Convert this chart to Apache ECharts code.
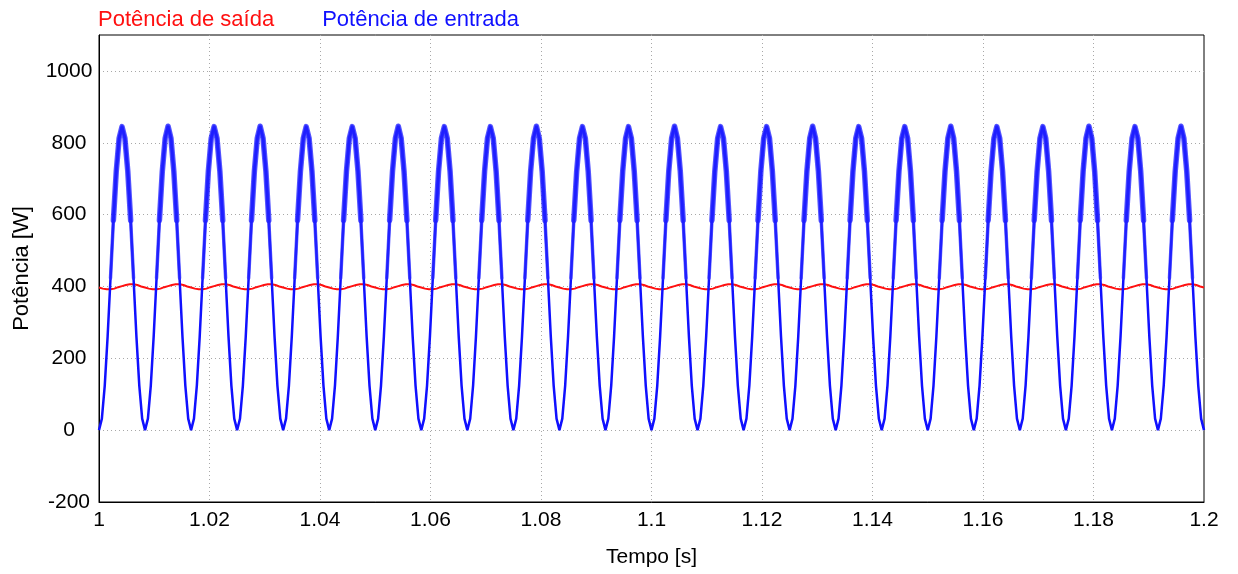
<!DOCTYPE html>
<html>
<head>
<meta charset="utf-8">
<script src="https://cdn.jsdelivr.net/npm/echarts@6/dist/echarts.min.js"></script>
<style>
  html, body { margin: 0; padding: 0; background: #fff; }
  #chart { width: 1238px; height: 574px; }
</style>
</head>
<body>
<div id="chart"></div>
<script>
// sampling of the traces (s)
const T0 = 1;
const DT_IN = 1 / 1920;   // input power, 16 samples per 120 Hz cycle
const DT_OUT = 1 / 1440;  // output power, 12 samples per cycle

// Potência de entrada [W], one line per cycle
const inputPower = [
  0, 32, 124, 261, 423, 584, 721, 813, 845, 813, 721, 584, 423, 261, 124, 32,
  0, 32, 124, 261, 423, 584, 721, 813, 846, 813, 721, 584, 423, 261, 124, 32,
  0, 32, 124, 261, 423, 584, 721, 813, 845, 813, 721, 584, 423, 261, 124, 32,
  0, 32, 124, 261, 423, 584, 721, 813, 846, 813, 721, 584, 423, 261, 124, 32,
  0, 32, 124, 261, 423, 584, 721, 813, 845, 813, 721, 584, 423, 261, 124, 32,
  0, 32, 124, 261, 423, 584, 721, 813, 845, 813, 721, 584, 423, 261, 124, 32,
  0, 32, 124, 261, 423, 584, 721, 813, 846, 813, 721, 584, 423, 261, 124, 32,
  0, 32, 124, 261, 423, 584, 721, 813, 845, 813, 721, 584, 423, 261, 124, 32,
  0, 32, 124, 261, 423, 584, 721, 813, 845, 813, 721, 584, 423, 261, 124, 32,
  0, 32, 124, 261, 423, 584, 721, 813, 846, 813, 721, 584, 423, 261, 124, 32,
  0, 32, 124, 261, 423, 584, 721, 813, 845, 813, 721, 584, 423, 261, 124, 32,
  0, 32, 124, 261, 423, 584, 721, 813, 845, 813, 721, 584, 423, 261, 124, 32,
  0, 32, 124, 261, 423, 584, 721, 813, 846, 813, 721, 584, 423, 261, 124, 32,
  0, 32, 124, 261, 423, 584, 721, 813, 845, 813, 721, 584, 423, 261, 124, 32,
  0, 32, 124, 261, 423, 584, 721, 813, 845, 813, 721, 584, 423, 261, 124, 32,
  0, 32, 124, 261, 423, 584, 721, 813, 846, 813, 721, 584, 423, 261, 124, 32,
  0, 32, 124, 261, 423, 584, 721, 813, 845, 813, 721, 584, 423, 261, 124, 32,
  0, 32, 124, 261, 423, 584, 721, 813, 845, 813, 721, 584, 423, 261, 124, 32,
  0, 32, 124, 261, 423, 584, 721, 813, 846, 813, 721, 584, 423, 261, 124, 32,
  0, 32, 124, 261, 423, 584, 721, 813, 845, 813, 721, 584, 423, 261, 124, 32,
  0, 32, 124, 261, 423, 584, 721, 813, 845, 813, 721, 584, 423, 261, 124, 32,
  0, 32, 124, 261, 423, 584, 721, 813, 846, 813, 721, 584, 423, 261, 124, 32,
  0, 32, 124, 261, 423, 584, 721, 813, 845, 813, 721, 584, 423, 261, 124, 32,
  0, 32, 124, 261, 423, 584, 721, 813, 846, 813, 721, 584, 423, 261, 124, 32,
  0
];

// Potência de saída [W], one line per cycle
const outputPower = [
  397, 394, 392, 392, 394, 398, 401, 404, 406, 406, 404, 400,
  397, 394, 392, 392, 394, 398, 401, 404, 406, 406, 404, 400,
  397, 394, 392, 392, 394, 398, 401, 404, 406, 406, 404, 400,
  397, 394, 392, 392, 394, 398, 401, 404, 406, 406, 404, 400,
  397, 394, 392, 392, 394, 398, 401, 404, 406, 406, 404, 400,
  397, 394, 392, 392, 394, 398, 401, 404, 406, 406, 404, 400,
  397, 394, 392, 392, 394, 398, 401, 404, 406, 406, 404, 400,
  397, 394, 392, 392, 394, 398, 401, 404, 406, 406, 404, 400,
  397, 394, 392, 392, 394, 398, 401, 404, 406, 406, 404, 400,
  397, 394, 392, 392, 394, 398, 401, 404, 406, 406, 404, 400,
  397, 394, 392, 392, 394, 398, 401, 404, 406, 406, 404, 400,
  397, 394, 392, 392, 394, 398, 401, 404, 406, 406, 404, 400,
  397, 394, 392, 392, 394, 398, 401, 404, 406, 406, 404, 400,
  397, 394, 392, 392, 394, 398, 401, 404, 406, 406, 404, 400,
  397, 394, 392, 392, 394, 398, 401, 404, 406, 406, 404, 400,
  397, 394, 392, 392, 394, 398, 401, 404, 406, 406, 404, 400,
  397, 394, 392, 392, 394, 398, 401, 404, 406, 406, 404, 400,
  397, 394, 392, 392, 394, 398, 401, 404, 406, 406, 404, 400,
  397, 394, 392, 392, 394, 398, 401, 404, 406, 406, 404, 400,
  397, 394, 392, 392, 394, 398, 401, 404, 406, 406, 404, 400,
  397, 394, 392, 392, 394, 398, 401, 404, 406, 406, 404, 400,
  397, 394, 392, 392, 394, 398, 401, 404, 406, 406, 404, 400,
  397, 394, 392, 392, 394, 398, 401, 404, 406, 406, 404, 400,
  397, 394, 392, 392, 394, 398, 401, 404, 406, 406, 404, 400,
  397
];

const seriesNames = ['Potência de saída', 'Potência de entrada'];
const seriesColors = ['#ff1010', '#1010ff'];

const inputData = inputPower.map((v, i) => [T0 + i * DT_IN, v]);
const outputData = outputPower.map((v, i) => [T0 + i * DT_OUT, v]);
// switching ripple makes the trace look thicker near the peaks
const rippleLow = inputPower.map((v, i) => [T0 + i * DT_IN, v >= 400 ? v : null]);
const rippleHigh = inputPower.map((v, i) => [T0 + i * DT_IN, v >= 580 ? v : null]);

const font = 'Liberation Sans, Arial, sans-serif';
const dotted = { color: '#a8a8a8', width: 1, type: [1, 3] };

const rippleSeries = (data, width, color) => ({
  name: 'ripple',
  type: 'line',
  data: data,
  showSymbol: false,
  symbol: 'none',
  connectNulls: false,
  lineStyle: { color: color, width: width, join: 'round', cap: 'round' },
  itemStyle: { color: seriesColors[1] },
  z: 4,
  silent: true
});

const chart = echarts.init(document.getElementById('chart'));
chart.setOption({
  animation: false,
  textStyle: { fontFamily: font },
  legend: {
    left: 88,
    top: 4,
    icon: 'none',
    itemWidth: 0,
    itemHeight: 22,
    itemGap: 43,
    selectedMode: false,
    textStyle: { fontSize: 22, fontFamily: font },
    data: seriesNames.map((n, i) => ({ name: n, textStyle: { color: seriesColors[i] } }))
  },
  grid: {
    left: 99,
    right: 34,
    top: 35,
    bottom: 72,
    show: true,
    borderColor: '#000',
    borderWidth: 1
  },
  xAxis: {
    type: 'value',
    min: 1,
    max: 1.2,
    interval: 0.02,
    name: 'Tempo [s]',
    nameLocation: 'middle',
    nameGap: 45,
    nameTextStyle: { fontSize: 21, color: '#000', fontFamily: font },
    axisLine: { show: true, onZero: false, lineStyle: { color: '#000', width: 1 } },
    axisTick: { show: false },
    axisLabel: { fontSize: 21, color: '#000', margin: 8, fontFamily: font },
    splitLine: { show: true, showMinLine: false, showMaxLine: false, lineStyle: dotted }
  },
  yAxis: {
    type: 'value',
    min: -200,
    max: 1100,
    interval: 200,
    name: 'Potência [W]',
    nameLocation: 'middle',
    nameGap: 66,
    nameTextStyle: { fontSize: 22, color: '#000', fontFamily: font },
    axisLine: { show: true, onZero: false, lineStyle: { color: '#000', width: 1 } },
    axisTick: { show: false },
    axisLabel: {
      fontSize: 21, color: '#000', margin: 30, align: 'center',
      showMaxLabel: false, fontFamily: font,
      formatter: (v) => String(v)
    },
    splitLine: { show: true, showMinLine: false, showMaxLine: false, lineStyle: dotted }
  },
  series: [
    {
      name: seriesNames[0],
      type: 'line',
      data: outputData,
      showSymbol: false,
      symbol: 'none',
      sampling: false,
      lineStyle: { color: seriesColors[0], width: 2 },
      itemStyle: { color: seriesColors[0] },
      z: 2
    },
    {
      name: seriesNames[1],
      type: 'line',
      data: inputData,
      showSymbol: false,
      symbol: 'none',
      lineStyle: { color: seriesColors[1], width: 2.5 },
      itemStyle: { color: seriesColors[1] },
      z: 3
    },
    rippleSeries(rippleLow, 3.5, 'rgba(40,40,255,0.7)'),
    rippleSeries(rippleHigh, 5.5, 'rgba(30,30,255,0.75)')
  ]
});
</script>
</body>
</html>
